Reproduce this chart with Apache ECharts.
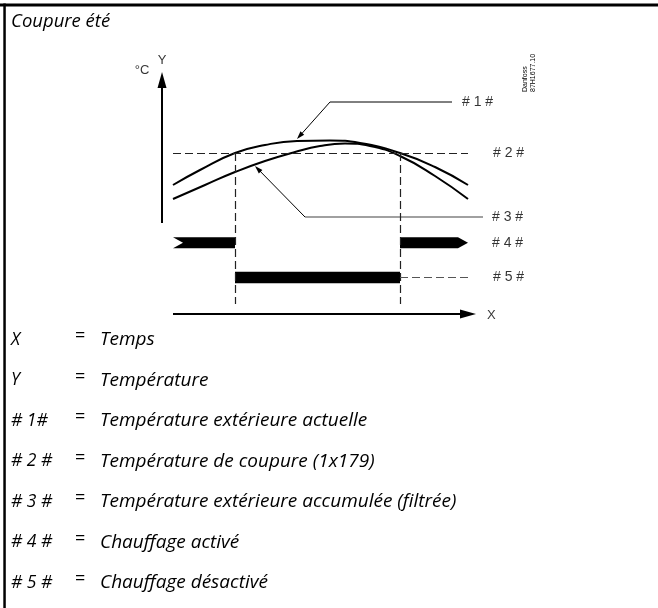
<!DOCTYPE html>
<html><head><meta charset="utf-8">
<script src="https://cdn.jsdelivr.net/npm/echarts@6/dist/echarts.min.js"></script>
<style>html,body{margin:0;padding:0;background:#fff}#c{width:658px;height:608px}</style>
</head><body><div id="c"></div>
<script>
// ---- schematic data (time units, temperature / lane units) ----
const timeActual   = [1.1, 3.8, 7.3, 10.3, 13.5, 16.8, 19.8, 23.8, 27.3, 30.6];
const tempActual   = [12.9, 14.4, 16.1, 16.9, 17.3, 17.35, 17.1, 16.1, 14.7, 12.9];
const timeFiltered = [1.1, 4.3, 7.3, 10.3, 13.3, 15.8, 18.3, 20.8, 23.8, 27.3, 30.6];
const tempFiltered = [11.5, 12.9, 14.2, 15.3, 16.2, 16.8, 17.05, 16.8, 15.8, 13.8, 11.5];
const cutoffTemp   = 16.1;
const timeRange    = [1.1, 30.6];
const switchTimes  = [7.3, 23.8];
const switchBottom = 1.0;
const heatingOnLane  = 7.12;
const heatingOffLane = 3.65;
const heatingOnSegments  = [[1.1, 7.3], [23.8, 30.6]];
const heatingOffSegments = [[7.3, 23.8]];
const yAxisExtent = [9.1, 24.2];
const xAxisExtent = [1.1, 31.4];
const leader1Path = [[29.0, 21.2], [16.8, 21.2], [13.5, 17.5]];
const leader3Path = [[32.1, 9.7], [14.3, 9.7], [9.3, 14.8]];
const markerNames = ['# 1 #', '# 2 #', '# 3 #', '# 4 #', '# 5 #'];
const markerAnchors = [[30.0, 21.2], [33.1, 16.1], [33.0, 9.7], [33.0, 7.12], [33.1, 3.65]];
const axisNames = ['Y', '°C', 'X'];
const axisNameAnchors = [[0, 25.4], [-2.0, 24.4], [32.5, -0.1]];
const legendKeys  = ['X', 'Y', '# 1#', '# 2 #', '# 3 #', '# 4 #', '# 5 #'];
const legendTexts = ['Temps', 'Température', 'Température extérieure actuelle',
  'Température de coupure (1x179)', 'Température extérieure accumulée (filtrée)',
  'Chauffage activé', 'Chauffage désactivé'];
const titleText = 'Coupure été';
const codeTexts = ['Danfoss', '87H1677.10'];

const zip = (xs, ys) => xs.map((x, i) => [x, ys[i]]);
const chart = echarts.init(document.getElementById('c'), null, {renderer: 'canvas'});

function arrowPath(api, pts, color, width, head) {
  const px = pts.map(p => api.coord(p));
  const children = [];
  let last = px[px.length - 1];
  let linePts = px.slice();
  if (head) {
    const prev = px[px.length - 2];
    const dx = last[0] - prev[0], dy = last[1] - prev[1];
    const L = Math.hypot(dx, dy), ux = dx / L, uy = dy / L;
    const bx = last[0] - ux * head[0], by = last[1] - uy * head[0];
    linePts[linePts.length - 1] = [bx + ux, by + uy];
    children.push({type: 'polygon', shape: {points: [last, [bx - uy * head[1] / 2, by + ux * head[1] / 2], [bx + uy * head[1] / 2, by - ux * head[1] / 2]]}, style: {fill: color}});
  }
  children.unshift({type: 'polyline', shape: {points: linePts}, style: {stroke: color, lineWidth: width, fill: null}});
  return children;
}

const dashed = (pairs, color) => ({
  type: 'line', data: [], silent: true,
  markLine: {silent: true, symbol: 'none', label: {show: false},
    lineStyle: {color: color, width: 1.2, type: [8, 4]},
    emphasis: {disabled: true},
    data: pairs.map(p => [{coord: p[0]}, {coord: p[1]}])}
});

const option = {
  animation: false,
  grid: {left: 0, right: 0, top: 0, bottom: 0},
  xAxis: {type: 'value', min: -16.2, max: 49.6, show: false},
  yAxis: {type: 'value', min: -29.4, max: 31.4, show: false},
  series: [
    dashed([[[timeRange[0], cutoffTemp], [timeRange[1], cutoffTemp]]], '#222'),
    dashed(switchTimes.map(t => [[t, cutoffTemp], [t, switchBottom]]), '#222'),
    dashed([[[heatingOffSegments[0][1], heatingOffLane], [timeRange[1], heatingOffLane]]], '#555'),
    {type: 'line', data: zip(timeActual, tempActual), smooth: 0.5, symbol: 'none',
     lineStyle: {color: '#000', width: 2}, silent: true},
    {type: 'line', data: zip(timeFiltered, tempFiltered), smooth: 0.5, symbol: 'none',
     lineStyle: {color: '#000', width: 2}, silent: true},
    {type: 'custom', silent: true,
     data: heatingOnSegments.map((s, i) => [s[0], s[1], heatingOnLane, i]),
     renderItem: (params, api) => {
       const a = api.coord([api.value(0), api.value(2)]);
       const b = api.coord([api.value(1), api.value(2)]);
       const h = 5.5;
       const pts = params.dataIndex === 0
         ? [[a[0], a[1] - h], [b[0], b[1] - h], [b[0], b[1] + h], [a[0], a[1] + h], [a[0] + 10, a[1]]]
         : [[a[0], a[1] - h], [b[0] - 10, b[1] - h], [b[0], b[1]], [b[0] - 10, b[1] + h], [a[0], a[1] + h]];
       return {type: 'polygon', shape: {points: pts}, style: {fill: '#000'}};
     }},
    {type: 'custom', silent: true,
     data: heatingOffSegments.map(s => [s[0], s[1], heatingOffLane]),
     renderItem: (params, api) => {
       const a = api.coord([api.value(0), api.value(2)]);
       const b = api.coord([api.value(1), api.value(2)]);
       return {type: 'rect', shape: {x: a[0], y: a[1] - 5.8, width: b[0] - a[0], height: 11.6}, style: {fill: '#000'}};
     }},
    {type: 'custom', silent: true, data: [0, 1, 2, 3],
     renderItem: (params, api) => {
       const i = params.dataIndex;
       let ch;
       if (i === 0) ch = arrowPath(api, [[0, yAxisExtent[0]], [0, yAxisExtent[1]]], '#000', 2, [16, 9]);
       else if (i === 1) ch = arrowPath(api, [[xAxisExtent[0], 0], [xAxisExtent[1], 0]], '#000', 1.8, [16, 9]);
       else if (i === 2) ch = arrowPath(api, leader1Path, '#000', 1, [8, 5]);
       else ch = arrowPath(api, leader3Path.slice(0, 2), '#808080', 1.6, null)
               .concat(arrowPath(api, leader3Path.slice(1), '#000', 1, [8, 5]));
       return {type: 'group', children: ch};
     }},
    {type: 'scatter', symbolSize: 0, silent: true,
     data: markerNames.map((n, i) => ({name: n, value: markerAnchors[i]})),
     label: {show: true, position: 'right', distance: 0, formatter: '{b}', color: '#000',
       fontFamily: 'Liberation Sans', fontSize: 14}},
    {type: 'scatter', symbolSize: 0, silent: true,
     data: axisNames.map((n, i) => ({name: n, value: axisNameAnchors[i],
       label: i === 2 ? {position: 'right', distance: 0} : {position: 'inside'}})),
     label: {show: true, formatter: '{b}', color: '#000', fontFamily: 'Liberation Sans', fontSize: 13}}
  ],
  graphic: [
    {type: 'rect', shape: {x: 0, y: 3.5, width: 658, height: 3}, style: {fill: '#000'}},
    {type: 'rect', shape: {x: 3.3, y: 3.5, width: 2.5, height: 605}, style: {fill: '#000'}},
    {type: 'text', x: 11, y: 22, style: {text: titleText, textVerticalAlign: 'middle',
      font: 'italic 18.5px "Open Sans"', fill: '#000'}},
    {type: 'text', x: 525, y: 92, rotation: Math.PI / 2, style: {text: codeTexts[0], textAlign: 'left', textVerticalAlign: 'middle', font: '7px "Liberation Sans"', fill: '#000'}},
    {type: 'text', x: 533, y: 92, rotation: Math.PI / 2, style: {text: codeTexts[1], textAlign: 'left', textVerticalAlign: 'middle', font: '7px "Liberation Sans"', fill: '#000'}}
  ].concat(legendKeys.flatMap((k, i) => {
    const y = 340 + i * 40.5;
    return [
      {type: 'text', x: 11, y: y, style: {text: k, textVerticalAlign: 'middle', font: 'italic 17.5px "Open Sans"', fill: '#000'}},
      {type: 'text', x: 75, y: y - 4, style: {text: '=', textVerticalAlign: 'middle', font: '18px "Open Sans"', fill: '#000'}},
      {type: 'text', x: 100, y: y, style: {text: legendTexts[i], textVerticalAlign: 'middle', font: 'italic 19px "Open Sans"', fill: '#000'}}
    ];
  }))
};
chart.setOption(option);
</script></body></html>
